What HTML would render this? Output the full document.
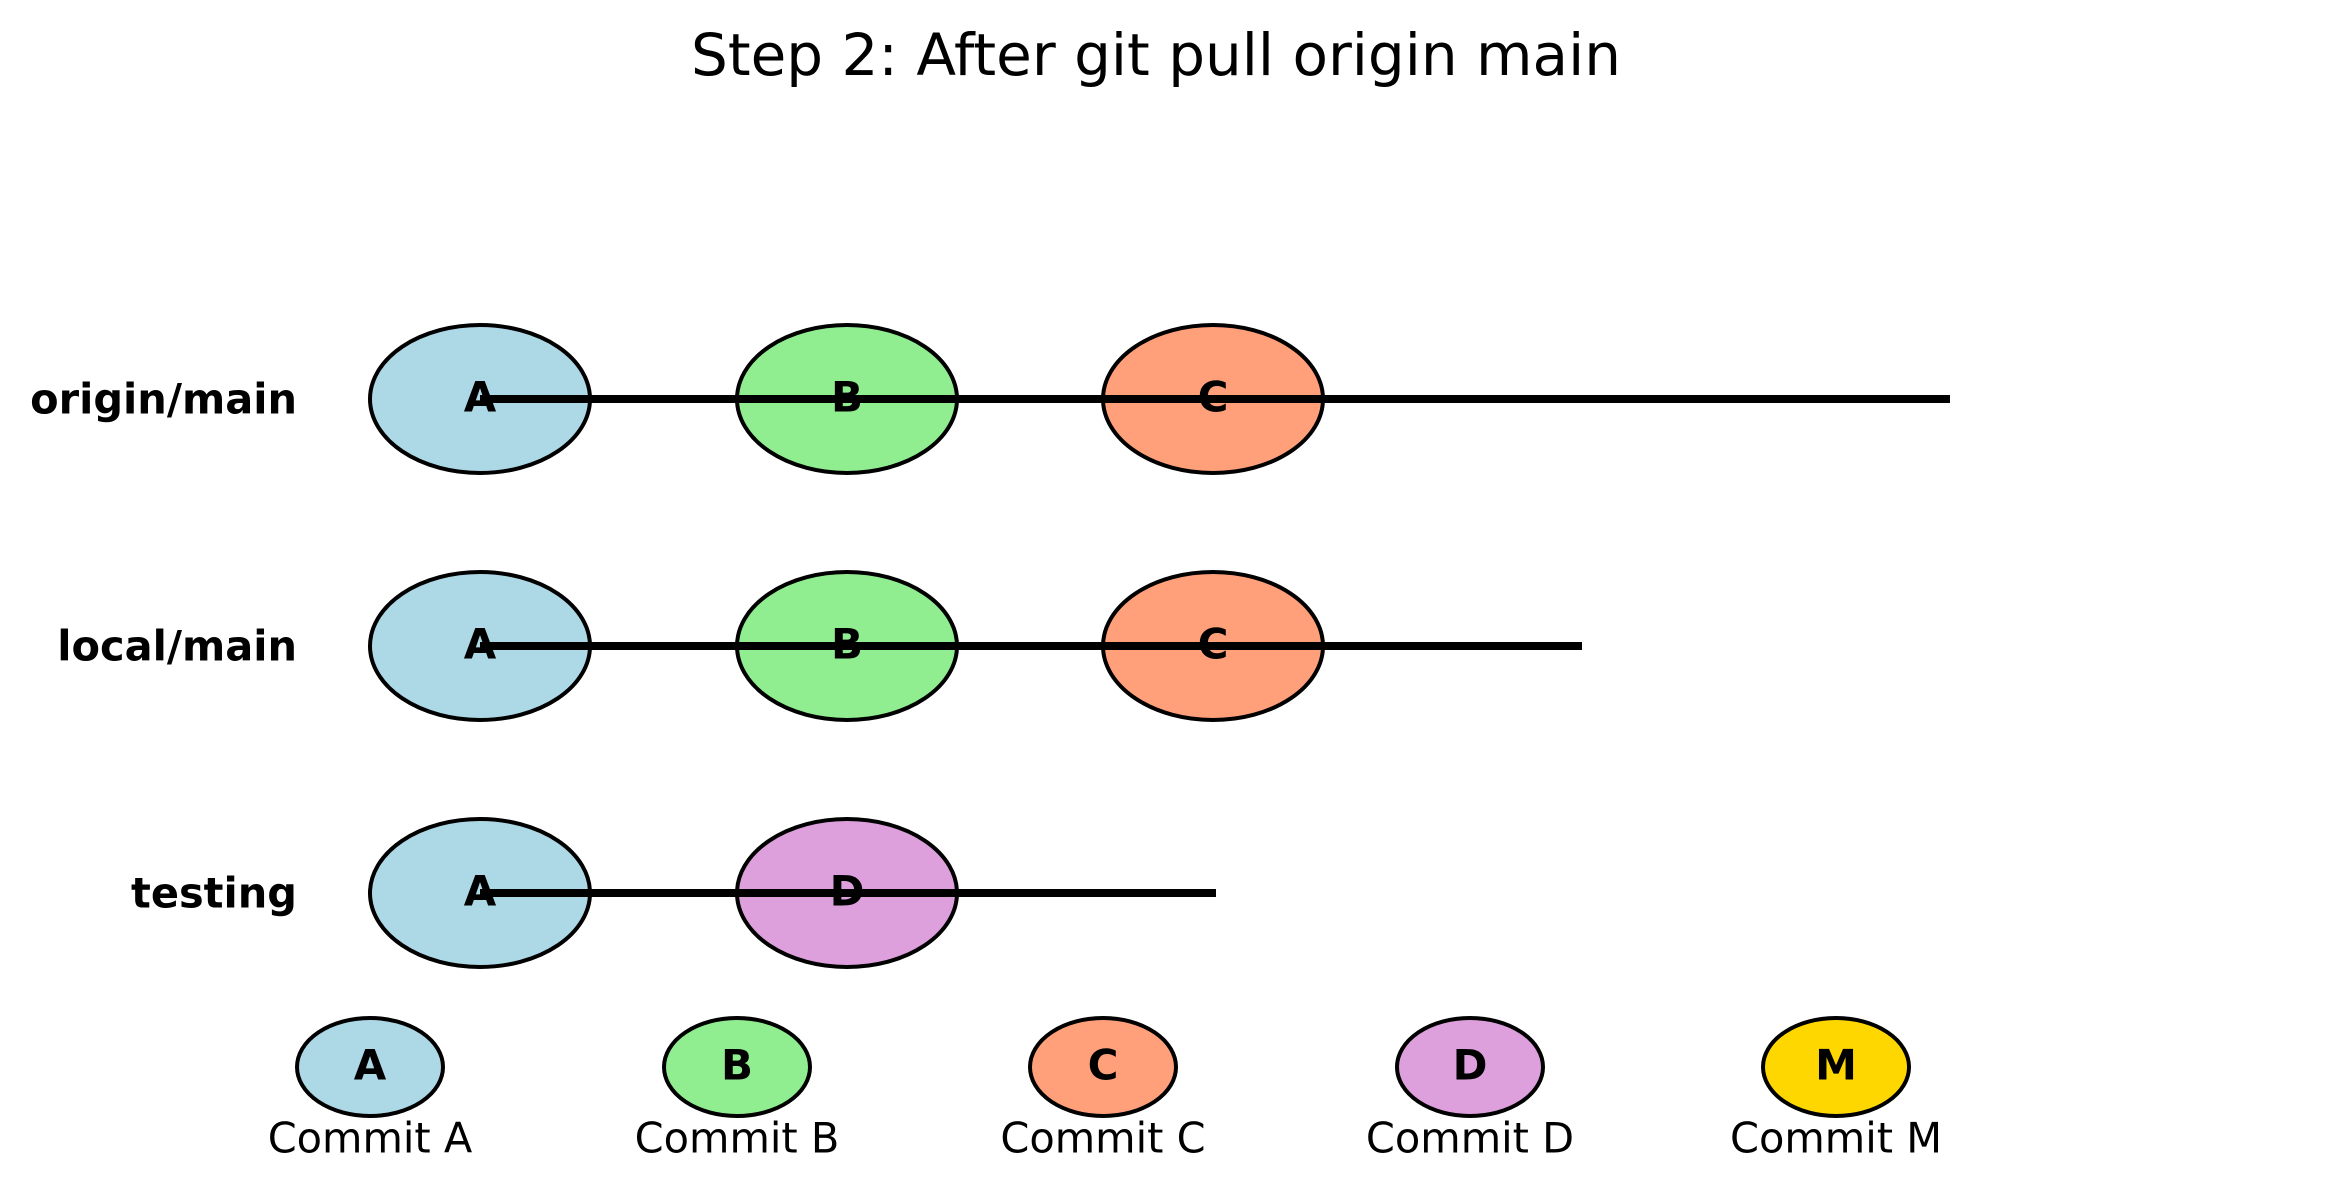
<!DOCTYPE html>
<html><head><meta charset="utf-8"><style>
html,body{margin:0;padding:0;background:#fff;}
svg{display:block;}
text{font-family:"DejaVu Sans","Liberation Sans",sans-serif;}
</style></head><body>
<svg width="2342" height="1191" viewBox="0 0 2342 1191" xmlns="http://www.w3.org/2000/svg">
<text x="1156" y="55" font-size="58" text-anchor="middle" dominant-baseline="central">Step 2: After git pull origin main</text>
<g font-size="41.5" font-weight="bold" text-anchor="end" dominant-baseline="central">
<text x="297" y="399">origin/main</text>
<text x="297" y="646">local/main</text>
<text x="297" y="893">testing</text>
</g>
<g stroke="#000" stroke-width="4">
<ellipse cx="480" cy="399" rx="110" ry="74" fill="#add8e6"/>
<ellipse cx="847" cy="399" rx="110" ry="74" fill="#90ee90"/>
<ellipse cx="1213" cy="399" rx="110" ry="74" fill="#ffa07a"/>
<ellipse cx="480" cy="646" rx="110" ry="74" fill="#add8e6"/>
<ellipse cx="847" cy="646" rx="110" ry="74" fill="#90ee90"/>
<ellipse cx="1213" cy="646" rx="110" ry="74" fill="#ffa07a"/>
<ellipse cx="480" cy="893" rx="110" ry="74" fill="#add8e6"/>
<ellipse cx="847" cy="893" rx="110" ry="74" fill="#dda0dd"/>
</g>
<g stroke="#000" stroke-width="8">
<line x1="480" y1="399" x2="1950" y2="399"/>
<line x1="480" y1="646" x2="1582" y2="646"/>
<line x1="480" y1="893" x2="1216" y2="893"/>
</g>
<g font-size="42" font-weight="bold" text-anchor="middle" dominant-baseline="central">
<text x="480" y="397">A</text><text x="847" y="397">B</text><text x="1213" y="397">C</text>
<text x="480" y="644">A</text><text x="847" y="644">B</text><text x="1213" y="644">C</text>
<text x="480" y="891">A</text><text x="847" y="891">D</text>
</g>
<g stroke="#000" stroke-width="4">
<ellipse cx="370" cy="1067" rx="73" ry="49" fill="#add8e6"/>
<ellipse cx="737" cy="1067" rx="73" ry="49" fill="#90ee90"/>
<ellipse cx="1103" cy="1067" rx="73" ry="49" fill="#ffa07a"/>
<ellipse cx="1470" cy="1067" rx="73" ry="49" fill="#dda0dd"/>
<ellipse cx="1836" cy="1067" rx="73" ry="49" fill="#ffd700"/>
</g>
<g font-size="42" font-weight="bold" text-anchor="middle" dominant-baseline="central">
<text x="370" y="1065">A</text><text x="737" y="1065">B</text><text x="1103" y="1065">C</text><text x="1470" y="1065">D</text><text x="1836" y="1065">M</text>
</g>
<g font-size="41.5" text-anchor="middle" dominant-baseline="central">
<text x="370" y="1138">Commit A</text><text x="737" y="1138">Commit B</text><text x="1103" y="1138">Commit C</text><text x="1470" y="1138">Commit D</text><text x="1836" y="1138">Commit M</text>
</g>
</svg>
</body></html>
